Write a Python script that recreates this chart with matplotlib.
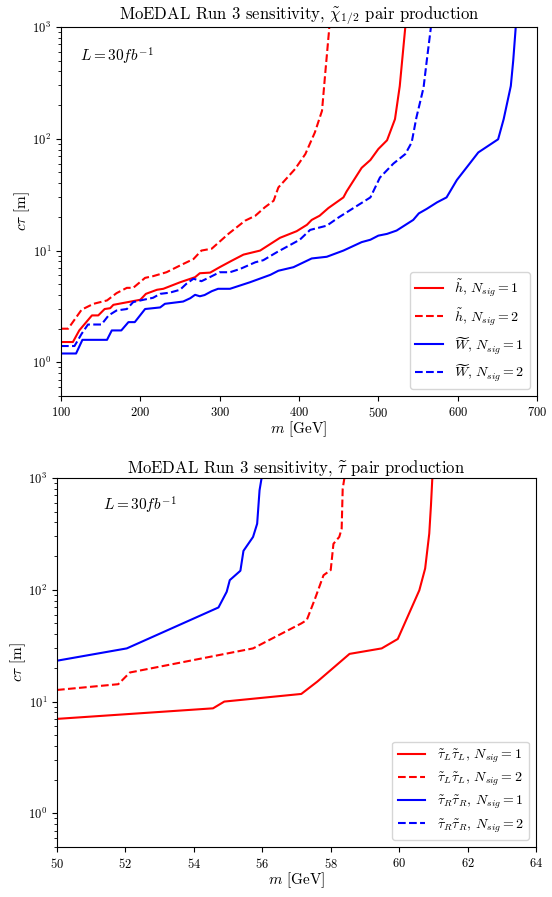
import numpy as np
import matplotlib
matplotlib.use("Agg")
import matplotlib.pyplot as plt

plt.rcParams['font.family'] = 'serif'
plt.rcParams['font.serif'] = ['cmr10']
plt.rcParams['mathtext.fontset'] = 'cm'
plt.rcParams['axes.formatter.use_mathtext'] = True
plt.rcParams['axes.unicode_minus'] = False

# chargino / neutralino pair production
h1_m = [100, 115, 123, 139, 147, 155, 162, 166, 200, 207, 221, 229, 250, 269, 275, 288, 300, 315,
        330, 351, 376, 397, 410, 416, 426, 437, 456, 460, 479, 490, 500, 511, 521, 527, 534, 536]
h1_ct = [1.52, 1.52, 1.93, 2.63, 2.63, 3.0, 3.05, 3.27, 3.63, 4.1, 4.46, 4.55, 5.2, 5.78, 6.27, 6.35,
         7.1, 8.1, 9.2, 10.0, 13.0, 14.9, 17.0, 18.8, 20.5, 24.0, 29.9, 33.8, 55.0, 64.6, 81.0, 97.0,
         150.0, 296.0, 1000.0, 1300.0]
h2_m = [100, 109, 126, 141, 158, 170, 183, 191, 206, 216, 233, 250, 267, 277, 290, 311, 332, 345,
        357, 368, 374, 395, 408, 420, 429, 433, 438, 439]
h2_ct = [2.0, 2.0, 2.96, 3.34, 3.58, 4.16, 4.64, 4.64, 5.7, 5.9, 6.4, 7.35, 8.4, 10.0, 10.4, 14.1,
         18.5, 20.5, 24.4, 27.9, 36.7, 53.6, 73.0, 114.0, 178.0, 380.0, 950.0, 1300.0]
w1_m = [100, 119, 127, 158, 164, 176, 185, 193, 206, 225, 231, 254, 263, 269, 275, 281, 290, 298,
        313, 338, 364, 374, 393, 416, 435, 456, 479, 490, 500, 511, 523, 544, 551, 561, 574, 586,
        599, 613, 626, 651, 658, 667, 670, 673, 674]
w1_ct = [1.2, 1.2, 1.59, 1.59, 1.93, 1.93, 2.29, 2.29, 3.0, 3.1, 3.34, 3.5, 3.75, 4.02, 3.9, 4.0,
         4.33, 4.55, 4.55, 5.2, 6.07, 6.6, 7.1, 8.5, 8.8, 10.0, 11.9, 12.5, 13.6, 14.1, 15.1, 18.8,
         21.5, 23.6, 27.0, 29.9, 42.8, 57.4, 75.5, 99.0, 150.0, 297.0, 498.0, 955.0, 1300.0]
w2_m = [100, 117, 126, 134, 151, 160, 170, 183, 191, 204, 216, 225, 237, 250, 258, 267, 277, 288,
        300, 313, 326, 345, 355, 372, 401, 414, 435, 450, 467, 490, 502, 519, 534, 542, 548, 557,
        561, 566, 567]
w2_ct = [1.4, 1.4, 1.8, 2.18, 2.18, 2.63, 2.91, 3.0, 3.46, 3.63, 3.78, 4.1, 4.2, 4.46, 5.04, 5.6,
         5.32, 5.8, 6.4, 6.4, 6.86, 7.86, 8.2, 9.66, 12.5, 15.3, 16.7, 19.8, 23.6, 29.9, 45.0, 60.0,
         73.0, 92.7, 155.0, 287.0, 497.0, 960.0, 1300.0]

# stau pair production
tl1_m = [50, 54.56, 54.89, 57.14, 57.61, 58.55, 59.49, 59.96, 60.59, 60.76, 60.88, 60.93, 60.97,
         60.99]
tl1_ct = [7.0, 8.7, 10.0, 11.7, 15.1, 26.7, 29.9, 36.3, 99.0, 155.0, 318.0, 570.0, 1000.0, 1300.0]
tl2_m = [50, 51.79, 52.13, 55.73, 57.14, 57.30, 57.54, 57.79, 58.00, 58.08, 58.25, 58.32, 58.35,
         58.40, 58.41]
tl2_ct = [12.7, 14.3, 18.2, 29.9, 50.0, 53.6, 83.0, 135.0, 150.0, 258.0, 297.0, 352.0, 800.0,
          1000.0, 1300.0]
tr1_m = [50, 52.04, 54.72, 54.96, 55.05, 55.36, 55.45, 55.73, 55.85, 55.92, 55.98, 55.99]
tr1_ct = [23.2, 29.9, 69.5, 96.0, 122.0, 148.0, 223.0, 297.0, 390.0, 777.0, 1000.0, 1300.0]
tr2_m = []
tr2_ct = []

fig = plt.figure(figsize=(5.52, 8.97), dpi=100)
W, H = 552.0, 897.0
ax1 = fig.add_axes([61 / W, 1 - 396 / H, 476 / W, 369 / H])
ax2 = fig.add_axes([57 / W, 1 - 847 / H, 479 / W, 369 / H])

lw = 1.5
ax1.plot(h1_m, h1_ct, color='red', lw=lw, label=r'$\tilde{h}$, $N_{sig}=1$')
ax1.plot(h2_m, h2_ct, color='red', lw=lw, ls='--', label=r'$\tilde{h}$, $N_{sig}=2$')
ax1.plot(w1_m, w1_ct, color='blue', lw=lw, label=r'$\widetilde{W}$, $N_{sig}=1$')
ax1.plot(w2_m, w2_ct, color='blue', lw=lw, ls='--', label=r'$\widetilde{W}$, $N_{sig}=2$')
ax1.set_yscale('log')
ax1.set_xlim(100, 700)
ax1.set_ylim(0.5, 1000)
ax1.set_title(r'MoEDAL Run 3 sensitivity, $\tilde{\chi}_{1/2}$ pair production', fontsize=12, pad=3)
ax1.set_xlabel(r'$m$ [GeV]', fontsize=11, labelpad=0)
ax1.set_ylabel(r'$c\tau$ [m]', fontsize=11, labelpad=0)
ax1.text(0.04, 0.92, r'$L = 30fb^{-1}$', transform=ax1.transAxes, fontsize=11, va='center')
ax1.legend(loc='lower right', fontsize=10)

ax2.plot(tl1_m, tl1_ct, color='red', lw=lw, label=r'$\tilde{\tau}_L\tilde{\tau}_L$, $N_{sig}=1$')
ax2.plot(tl2_m, tl2_ct, color='red', lw=lw, ls='--', label=r'$\tilde{\tau}_L\tilde{\tau}_L$, $N_{sig}=2$')
ax2.plot(tr1_m, tr1_ct, color='blue', lw=lw, label=r'$\tilde{\tau}_R\tilde{\tau}_R$, $N_{sig}=1$')
ax2.plot(tr2_m, tr2_ct, color='blue', lw=lw, ls='--', label=r'$\tilde{\tau}_R\tilde{\tau}_R$, $N_{sig}=2$')
ax2.set_yscale('log')
ax2.set_xlim(50, 64)
ax2.set_ylim(0.5, 1000)
ax2.set_xticks(np.arange(50, 65, 2))
ax2.set_title(r'MoEDAL Run 3 sensitivity, $\widetilde{\tau}$ pair production', fontsize=12, pad=3)
ax2.set_xlabel(r'$m$ [GeV]', fontsize=11, labelpad=0)
ax2.set_ylabel(r'$c\tau$ [m]', fontsize=11, labelpad=0)
ax2.text(0.096, 0.927, r'$L = 30fb^{-1}$', transform=ax2.transAxes, fontsize=11, va='center')
ax2.legend(loc='lower right', fontsize=10, labelspacing=0.4)

for ax in (ax1, ax2):
    ax.tick_params(labelsize=9)

fig.savefig('out.png', dpi=100)
